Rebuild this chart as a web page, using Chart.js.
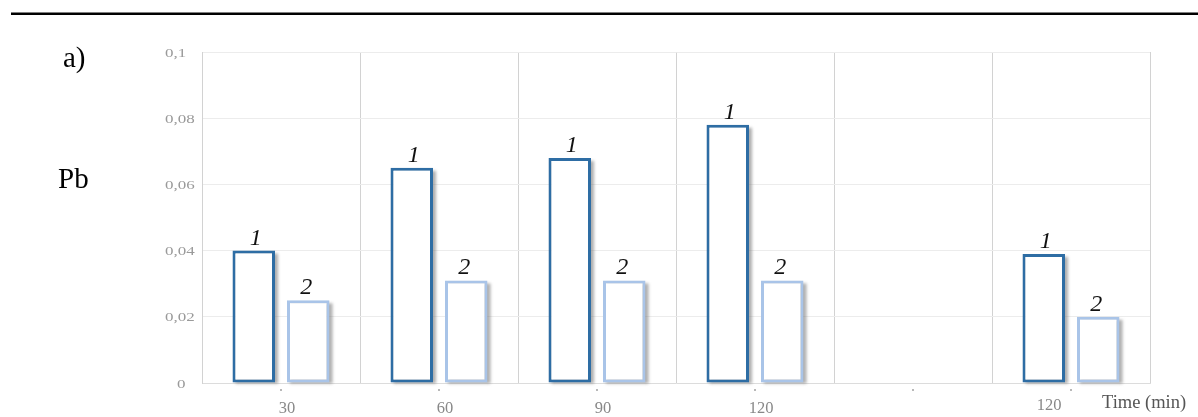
<!DOCTYPE html>
<html>
<head>
<meta charset="utf-8">
<script src="https://cdn.jsdelivr.net/npm/chart.js@4.4.1/dist/chart.umd.min.js"></script>
<style>
  html, body { margin: 0; padding: 0; background: #ffffff; }
  #wrap { width: 1198px; height: 417px; position: relative; }
  canvas { display: block; }
</style>
</head>
<body>
<div id="wrap"><canvas id="pb" width="1198" height="417"></canvas></div>
<script>
// Pb removal over time, two sample series
const categories = ['30', '60', '90', '120', '', '120'];
const seriesNames = ['1', '2'];
const series1 = [0.040, 0.065, 0.068, 0.078, null, 0.039];
const series2 = [0.025, 0.031, 0.031, 0.031, null, 0.020];
const yMin = 0;
const yMax = 0.1;
const yStep = 0.02;
const panelLabel = 'a)';
const elementLabel = 'Pb';
const xAxisTitle = 'Time (min)';

const SERIF = '"Liberation Serif", "Times New Roman", serif';

function fmtTick(v) {
  return String(+v.toFixed(2)).replace('.', ',');
}

// text helper with optional horizontal stretch
function drawText(ctx, text, x, y, font, color, align, baseline, sx) {
  ctx.save();
  ctx.font = font;
  ctx.fillStyle = color;
  ctx.textAlign = align || 'left';
  ctx.textBaseline = baseline || 'alphabetic';
  ctx.translate(x, y);
  ctx.scale(sx || 1, 1);
  ctx.fillText(text, 0, 0);
  ctx.restore();
}

const decorPlugin = {
  id: 'decor',
  beforeDraw(chart) {
    const ctx = chart.ctx;
    ctx.save();
    ctx.fillStyle = '#ffffff';
    ctx.fillRect(0, 0, chart.width, chart.height);
    // heading rule
    ctx.fillStyle = '#000000';
    ctx.fillRect(11, 12.5, chart.width - 11, 2.5);
    ctx.restore();
    drawText(ctx, panelLabel, 63, 66.5, '29px ' + SERIF, '#000', 'left');
    drawText(ctx, elementLabel, 58, 187.5, '29px ' + SERIF, '#000', 'left');
  },
  beforeDatasetsDraw(chart) {
    // soft drop shadow behind every bar
    const ctx = chart.ctx;
    ctx.save();
    ctx.filter = 'blur(1.5px)';
    ctx.fillStyle = 'rgba(110,110,110,0.55)';
    chart.data.datasets.forEach((ds, di) => {
      const meta = chart.getDatasetMeta(di);
      meta.data.forEach((bar, i) => {
        if (ds.data[i] == null) return;
        const p = bar.getProps(['x', 'y', 'base', 'width'], true);
        const left = p.x - p.width / 2;
        ctx.fillRect(left + 3, p.y + 3, p.width, p.base - p.y - 2);
      });
    });
    ctx.restore();
  },
  afterDatasetsDraw(chart) {
    const ctx = chart.ctx;
    // series numbers above the bars
    chart.data.datasets.forEach((ds, di) => {
      const meta = chart.getDatasetMeta(di);
      meta.data.forEach((bar, i) => {
        if (ds.data[i] == null) return;
        const p = bar.getProps(['x', 'y'], true);
        const dx = di === 0 ? 2 : -2;
        drawText(ctx, ds.label, p.x + dx, p.y - 6, 'italic 24px ' + SERIF, '#111', 'center');
      });
    });
  },
  afterDraw(chart) {
    const ctx = chart.ctx;
    const xs = chart.scales.x;
    const ys = chart.scales.y;
    const area = chart.chartArea;
    // y tick labels
    ys.ticks.forEach(t => {
      const y = ys.getPixelForValue(t.value);
      const label = fmtTick(t.value);
      const x = t.value === 0 ? 177 : 165;
      drawText(ctx, label, x, y + 1, '13.5px ' + SERIF, '#9a9a9a', 'left', 'middle', 1.26);
    });
    // x tick marks and labels
    categories.forEach((c, i) => {
      const x = xs.getPixelForValue(i);
      ctx.save();
      ctx.fillStyle = '#b8b8b8';
      ctx.fillRect(x - 1, area.bottom + 6, 2, 2);
      ctx.restore();
      if (!c) return;
      const last = i === categories.length - 1;
      drawText(ctx, c, last ? x - 22 : x + 6, last ? 410 : 413, '16.5px ' + SERIF, '#888888', 'center');
    });
    drawText(ctx, xAxisTitle, 1102, 408, '18.5px ' + SERIF, '#555555', 'left');
  }
};

new Chart(document.getElementById('pb'), {
  type: 'bar',
  data: {
    labels: categories,
    datasets: [
      {
        label: seriesNames[0],
        data: series1,
        backgroundColor: '#ffffff',
        borderColor: '#2e6da4',
        borderWidth: 3,
        borderSkipped: false
      },
      {
        label: seriesNames[1],
        data: series2,
        backgroundColor: '#ffffff',
        borderColor: '#a9c4e8',
        borderWidth: 3,
        borderSkipped: false
      }
    ]
  },
  options: {
    responsive: false,
    animation: false,
    events: [],
    layout: { padding: { top: 52, right: 48, left: 0, bottom: 0 } },
    datasets: {
      bar: { categoryPercentage: 0.69, barPercentage: 0.78 }
    },
    plugins: {
      legend: { display: false },
      tooltip: { enabled: false },
      title: { display: false }
    },
    scales: {
      x: {
        offset: true,
        grid: {
          offset: true,
          drawTicks: false,
          color: ctx => ctx.index === categories.length ? 'rgba(0,0,0,0.06)' : '#d2d2d2',
          lineWidth: 1
        },
        border: { display: true, color: '#dcdcdc', width: 1 },
        ticks: { display: false },
        afterFit(scale) { scale.height = 34; }
      },
      y: {
        min: yMin,
        max: yMax,
        ticks: { display: false, stepSize: yStep },
        grid: { drawTicks: false, color: '#ececec', lineWidth: 1 },
        border: { display: true, color: '#d2d2d2', width: 1 },
        afterFit(scale) { scale.width = 202; }
      }
    }
  },
  plugins: [decorPlugin]
});
</script>
</body>
</html>
